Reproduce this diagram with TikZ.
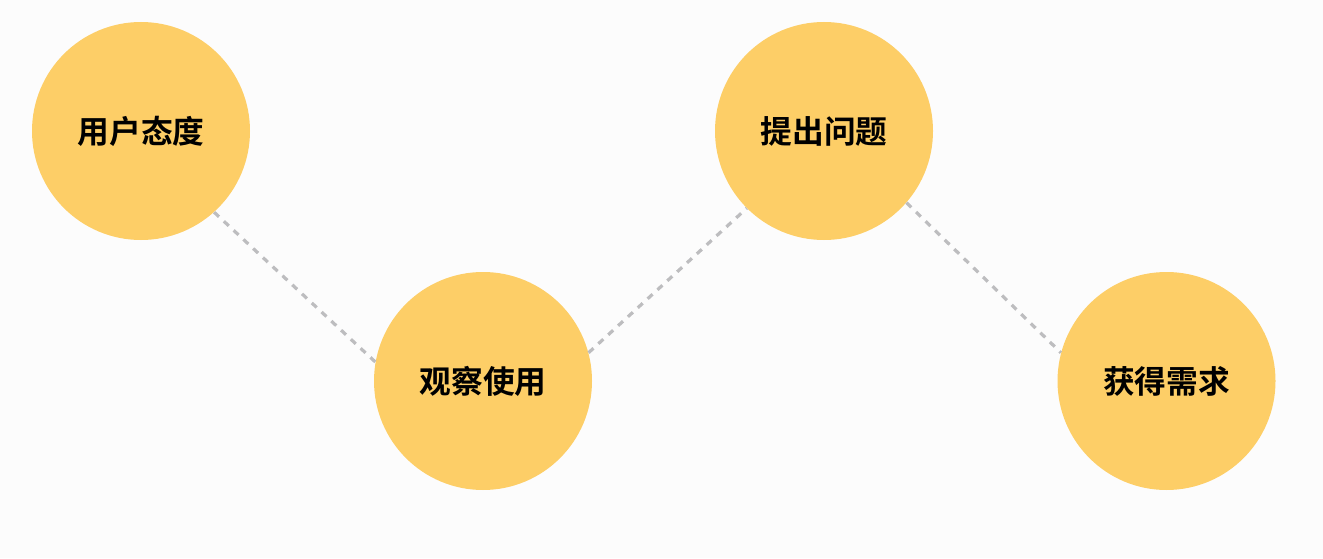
\documentclass[tikz,border=0pt]{standalone}
\usepackage{fontspec}
\newfontfamily\cjk{Noto Sans CJK SC Bold}
\definecolor{bgc}{HTML}{FCFCFC}
\definecolor{ball}{HTML}{FDCE67}
\definecolor{dashc}{HTML}{BDBDBF}
\begin{document}
\begin{tikzpicture}[x=0.75pt,y=0.75pt,
  ballnode/.style={circle,fill=ball,draw=none,inner sep=0pt,minimum size=163.5pt,
    font=\cjk\fontsize{23.8pt}{28pt}\selectfont,text=black},
  link/.style={draw=dashc,line width=2.4pt,dash pattern=on 5pt off 5pt}]
\fill[bgc] (0,0) rectangle (1323,558);
\useasboundingbox (0,0) rectangle (1323,558);
\node[ballnode] (a) at (141,427) {用户态度};
\node[ballnode] (b) at (483,177) {观察使用};
\node[ballnode] (c) at (824,427) {提出问题};
\node[ballnode] (d) at (1166.5,177) {获得需求};
\draw[link] (a.-48) -- (b.170);
\draw[link] (b.15) -- (c.225);
\draw[link] (c.-41) -- (d.165);
\end{tikzpicture}
\end{document}
